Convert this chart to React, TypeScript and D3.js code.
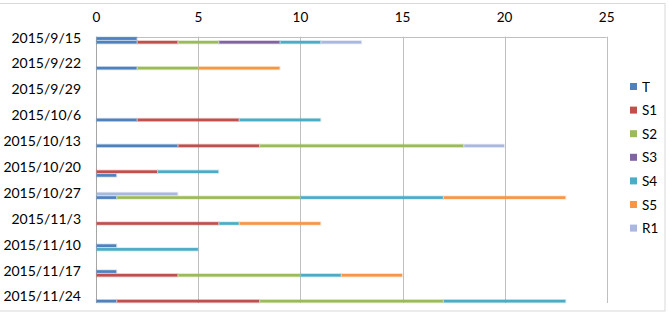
import React, { useEffect, useRef } from 'react';
import * as d3 from 'd3';

// one row per record (date axis, one slot per day)
const rowDates = [
  '2015/9/15', '2015/9/16', '2015/9/23', '2015/10/7', '2015/10/14',
  '2015/10/21', '2015/10/22', '2015/10/27', '2015/10/28', '2015/11/4',
  '2015/11/10', '2015/11/11', '2015/11/17', '2015/11/18', '2015/11/25',
];

const seriesNames = ['T', 'S1', 'S2', 'S3', 'S4', 'S5', 'R1'];
const seriesColors = ['#4F81BD', '#C0504D', '#9BBB59', '#8064A2', '#4BACC6', '#F79646', '#A9B8DC'];

const T = [2, 2, 2, 2, 4, 0, 1, 0, 1, 0, 1, 0, 1, 0, 1];
const S1 = [0, 2, 0, 5, 4, 3, 0, 0, 0, 6, 0, 0, 0, 4, 7];
const S2 = [0, 2, 3, 0, 10, 0, 0, 0, 9, 0, 0, 0, 0, 6, 9];
const S3 = [0, 3, 0, 0, 0, 0, 0, 0, 0, 0, 0, 0, 0, 0, 0];
const S4 = [0, 2, 0, 4, 0, 3, 0, 0, 7, 1, 0, 5, 0, 2, 6];
const S5 = [0, 0, 4, 0, 0, 0, 0, 0, 6, 4, 0, 0, 0, 3, 0];
const R1 = [0, 2, 0, 0, 2, 0, 0, 4, 0, 0, 0, 0, 0, 0, 0];

const dateLabels = [
  '2015/9/15', '2015/9/22', '2015/9/29', '2015/10/6', '2015/10/13', '2015/10/20',
  '2015/10/27', '2015/11/3', '2015/11/10', '2015/11/17', '2015/11/24',
];
const xTicks = [0, 5, 10, 15, 20, 25];

export default function App() {
  const ref = useRef<SVGSVGElement>(null);

  useEffect(() => {
    const svg = d3.select(ref.current);
    svg.selectAll('*').remove();

    const font = 'Lato, "Open Sans", sans-serif';
    const parse = d3.timeParse('%Y/%m/%d');
    const left = 96.3, right = 606.7, top = 36.7, bottom = 303;

    const x = d3.scaleLinear().domain([0, 25]).range([left, right]);
    const y = d3.scaleTime()
      .domain([parse('2015/9/15')!, d3.timeDay.offset(parse('2015/11/25')!, 1)])
      .range([top, bottom]);
    const slot = y(d3.timeDay.offset(parse('2015/9/15')!, 1)) - y(parse('2015/9/15')!);

    // outer chart border
    svg.append('rect')
      .attr('x', -1).attr('y', 3.5).attr('width', 666).attr('height', 307.5)
      .attr('fill', '#fff').attr('stroke', '#D9D9D9');

    // gridlines
    const g = svg.append('g');
    g.selectAll('line.grid')
      .data(xTicks)
      .join('line')
      .attr('x1', d => Math.round(x(d)) + 0.5).attr('x2', d => Math.round(x(d)) + 0.5)
      .attr('y1', top).attr('y2', bottom)
      .attr('stroke', d => (d === 0 ? '#A6A6A6' : '#BFBFBF'));
    g.append('line')
      .attr('x1', left).attr('x2', right)
      .attr('y1', Math.round(top) + 0.5).attr('y2', Math.round(top) + 0.5)
      .attr('stroke', '#BFBFBF');

    // x axis labels on top
    g.selectAll('text.xt')
      .data(xTicks)
      .join('text')
      .attr('x', d => x(d)).attr('y', 16.5)
      .attr('text-anchor', 'middle').attr('dominant-baseline', 'central')
      .attr('font-family', font).attr('font-size', 13.5).attr('fill', '#000')
      .text(d => d);

    // date labels
    g.selectAll('text.yt')
      .data(dateLabels)
      .join('text')
      .attr('x', 81).attr('y', d => y(parse(d)!) + slot / 2 - 1.5)
      .attr('text-anchor', 'end').attr('dominant-baseline', 'central')
      .attr('font-family', font).attr('font-size', 14).attr('fill', '#000')
      .text(d => d);

    // stacked bars
    const values = [T, S1, S2, S3, S4, S5, R1];
    const table = rowDates.map((d, i) => {
      const row: any = { date: parse(d) };
      seriesNames.forEach((s, k) => { row[s] = values[k][i]; });
      return row;
    });
    const stack = d3.stack().keys(seriesNames)(table);
    const barH = slot * 0.72;

    stack.forEach((layer, k) => {
      const segs = layer.filter(d => d[1] - d[0] > 0);
      // soft glow round each segment
      svg.append('g')
        .selectAll('rect')
        .data(segs)
        .join('rect')
        .attr('x', d => x(d[0]) - 0.5)
        .attr('width', d => x(d[1]) - x(d[0]) + 1)
        .attr('y', d => y((d.data as any).date) + (slot - barH) / 2 - 0.8)
        .attr('height', barH + 1.6)
        .attr('fill', seriesColors[k]).attr('opacity', 0.25);
      svg.append('g')
        .selectAll('rect')
        .data(segs)
        .join('rect')
        .attr('x', d => x(d[0]) + 0.5)
        .attr('width', d => Math.max(0, x(d[1]) - x(d[0]) - 1))
        .attr('y', d => y((d.data as any).date) + (slot - barH) / 2)
        .attr('height', barH)
        .attr('fill', seriesColors[k]);
    });

    // legend
    const leg = svg.append('g');
    seriesNames.forEach((s, k) => {
      const cy = 86.5 + k * 23.6;
      leg.append('rect')
        .attr('x', 630).attr('y', cy - 3.5).attr('width', 7).attr('height', 7)
        .attr('fill', seriesColors[k]);
      leg.append('text')
        .attr('x', 642).attr('y', cy)
        .attr('dominant-baseline', 'central')
        .attr('font-family', font).attr('font-size', 13.5).attr('fill', '#000')
        .text(s);
    });
  }, []);

  return (
    <svg
      ref={ref}
      width={669}
      height={318}
      style={{ position: 'absolute', left: 0, top: 0, background: '#fff' }}
    />
  );
}
